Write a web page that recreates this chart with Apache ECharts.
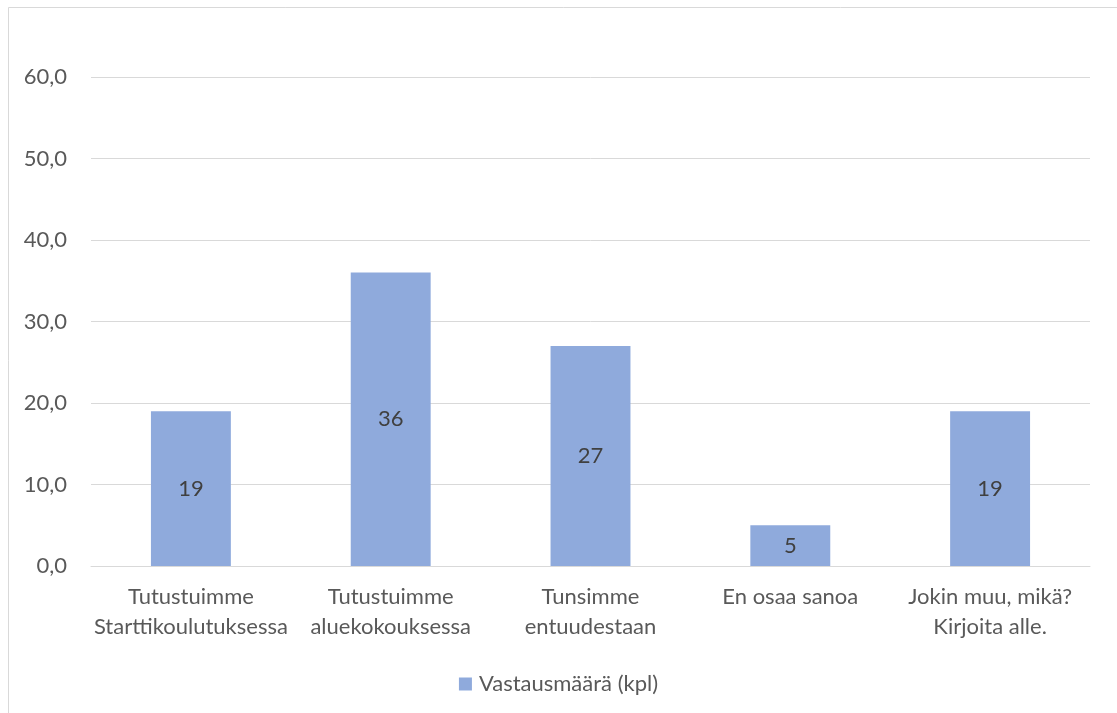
<!DOCTYPE html>
<html>
<head>
<meta charset="utf-8">
<style>
  html, body { margin: 0; padding: 0; background: #fff; }
  #chart { width: 1117px; height: 713px; }
</style>
<script src="https://cdn.jsdelivr.net/npm/echarts@6/dist/echarts.min.js"></script>
</head>
<body>
<div id="chart"></div>
<script>
const categories = [
  'Tutustuimme\nStarttikoulutuksessa',
  'Tutustuimme\naluekokouksessa',
  'Tunsimme\nentuudestaan',
  'En osaa sanoa',
  'Jokin muu, mikä?\nKirjoita alle.'
];
const seriesName = 'Vastausmäärä (kpl)';
const values = [19, 36, 27, 5, 19];
const yTicks = { min: 0, max: 60, interval: 10 };

const FONT = 'Lato, "Open Sans", sans-serif';
const TEXT = '#595959';
const SIZE = 22;

const chart = echarts.init(document.getElementById('chart'), null, { renderer: 'canvas' });
chart.setOption({
  backgroundColor: '#ffffff',
  animation: false,
  graphic: [{
    type: 'rect',
    shape: { x: 8.5, y: 7.5, width: 1130, height: 730 },
    style: { fill: 'none', stroke: '#D9D9D9', lineWidth: 1 },
    silent: true
  }],
  grid: { left: 91, right: 27, top: 77, bottom: 147, containLabel: false },
  legend: {
    top: 668,
    left: 'center',
    itemWidth: 13,
    itemHeight: 13,
    itemGap: 8,
    icon: 'rect',
    textStyle: { color: TEXT, fontSize: SIZE, fontFamily: FONT, padding: [0, 0, 0, 2] },
    data: [seriesName]
  },
  xAxis: {
    type: 'category',
    data: categories,
    axisLine: { show: true, lineStyle: { color: '#D9D9D9', width: 1 } },
    axisTick: { show: false },
    axisLabel: {
      color: TEXT, fontSize: SIZE, fontFamily: FONT, lineHeight: 30, margin: 16,
      interval: 0
    }
  },
  yAxis: {
    type: 'value',
    min: yTicks.min,
    max: yTicks.max,
    interval: yTicks.interval,
    axisLine: { show: false },
    axisTick: { show: false },
    splitLine: { lineStyle: { color: '#D9D9D9', width: 1 } },
    axisLabel: {
      color: TEXT, fontSize: SIZE, fontFamily: FONT, margin: 24,
      formatter: v => v.toFixed(1).replace('.', ',')
    }
  },
  series: [{
    name: seriesName,
    type: 'bar',
    data: values,
    barWidth: '40%',
    itemStyle: { color: '#8FAADC' },
    label: {
      show: true,
      position: 'inside',
      color: '#404040',
      fontSize: SIZE,
      fontFamily: FONT
    }
  }]
});
</script>
</body>
</html>
